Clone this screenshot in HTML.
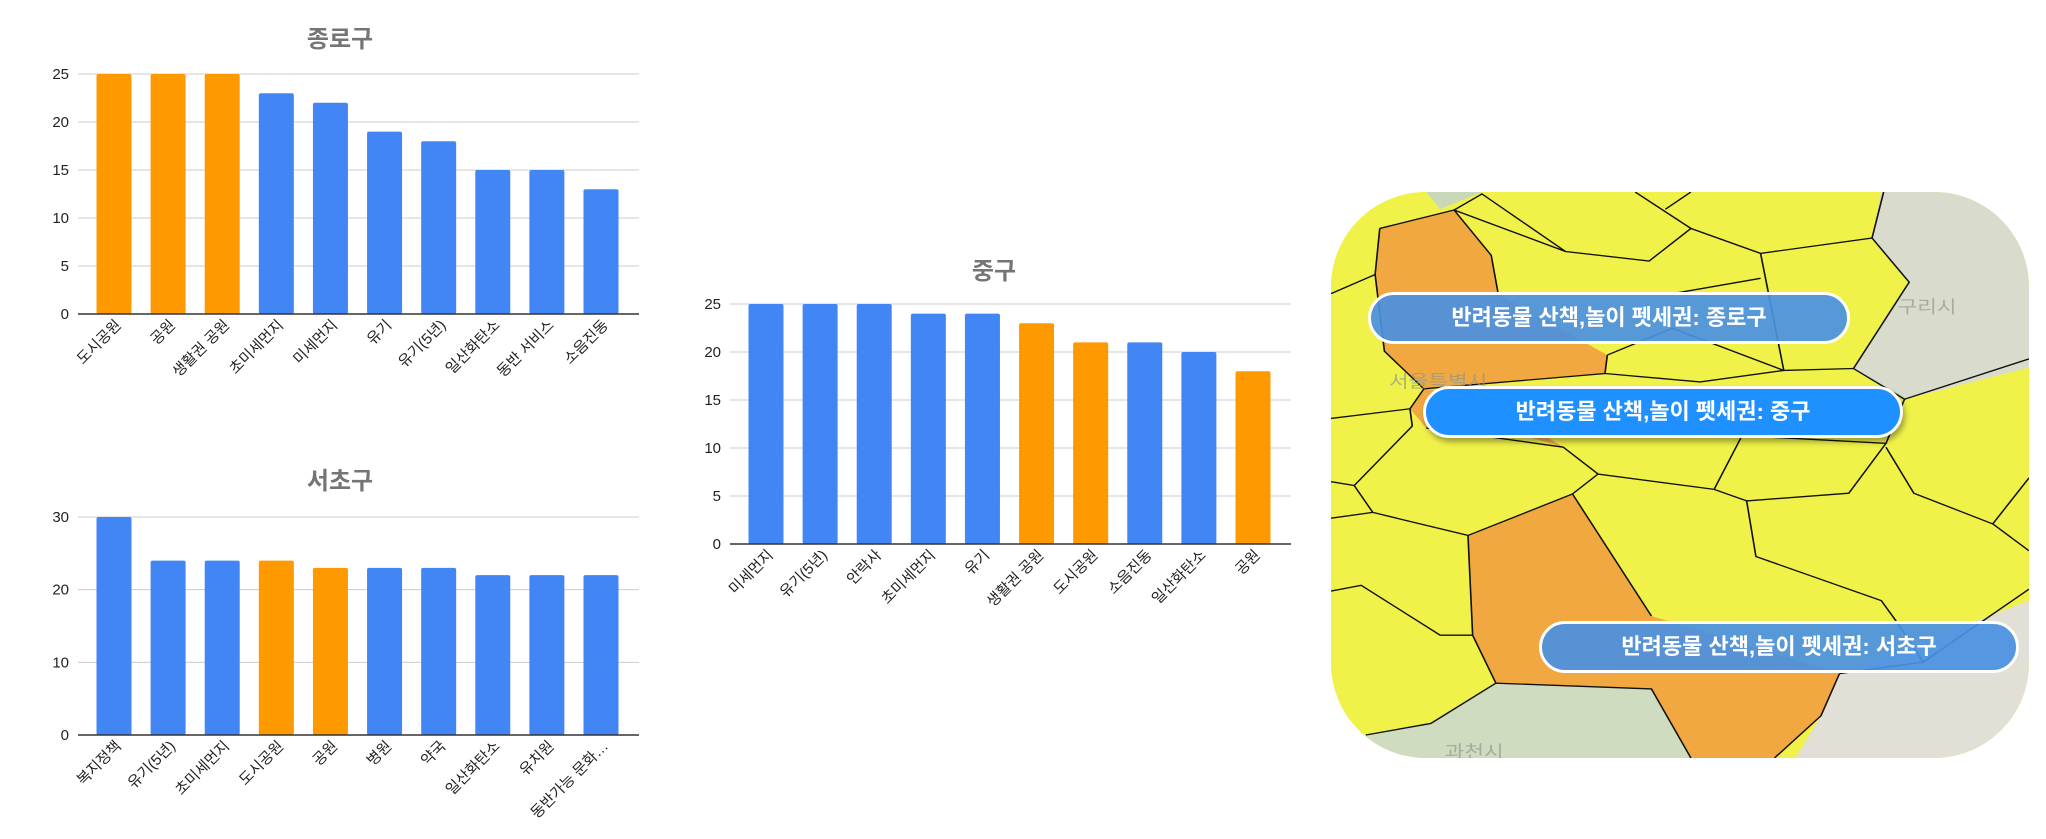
<!DOCTYPE html>
<html><head><meta charset="utf-8">
<style>
html,body{margin:0;padding:0;background:#fff;}
body{width:2046px;height:839px;position:relative;overflow:hidden;font-family:"Liberation Sans","Noto Sans CJK KR",sans-serif;}
#charts{position:absolute;left:0;top:0;}
#map{position:absolute;left:1331px;top:192px;width:698px;height:566px;border-radius:95px;overflow:hidden;background:#eef04a;}
.pill{position:absolute;height:46px;border:3px solid #fff;border-radius:26px;color:#fff;font-weight:bold;font-size:22px;line-height:46px;text-align:center;box-sizing:content-box;font-family:"Liberation Sans","Noto Sans CJK KR",sans-serif;}
</style></head><body>
<svg id="charts" width="2046" height="839" xmlns="http://www.w3.org/2000/svg"></svg>

<div id="map">
<svg width="698" height="566" viewBox="25 35 1503 1475" preserveAspectRatio="none" xmlns="http://www.w3.org/2000/svg">
<rect x="0" y="0" width="1600" height="1600" fill="#f0f24a"/>
<polygon points="1215,0 1600,0 1600,470 1260,575 1150,495 1270,270 1190,155" fill="#d9dccd"/>
<polygon points="0,1470 100,1450 240,1420 380,1315 715,1330 800,1510 0,1600" fill="#cfdcc0"/>
<polygon points="1120,1290 1528,1100 1600,1100 1600,1600 980,1600 1080,1400" fill="#e2e0d6"/>
<polygon points="230,35 350,35 260,80" fill="#c9d8b8"/>
<polygon points="130,130 290,82 370,200 385,300 620,460 615,508 225,548 140,450 120,250" fill="#f2a040" opacity="0.9"/>
<polygon points="195,600 225,548 340,560 525,700 440,670 230,650" fill="#f2a040" opacity="0.9"/>
<polygon points="320,930 545,822 715,1140 1120,1290 1080,1400 980,1510 800,1510 715,1330 380,1315 330,1190" fill="#f2a040" opacity="0.9"/>
<g fill="none" stroke="#111" stroke-width="3.5">
<polyline points="130,130 290,82 370,200 385,300"/>
<polyline points="120,250 130,130"/>
<polyline points="25,300 120,250 140,450 225,548 195,600 25,625"/>
<polyline points="195,600 200,645 75,800 25,790"/>
<polyline points="75,800 115,870 25,885"/>
<polyline points="115,870 320,930 545,822 600,770 850,810 920,840"/>
<polyline points="230,650 525,700 600,770"/>
<polyline points="620,460 615,508 225,548"/>
<polyline points="620,460 760,390 1000,500 1150,495 1260,575 1528,470"/>
<polyline points="615,508 820,530 1000,500"/>
<polyline points="290,82 350,40 530,190 710,215 800,130 950,195 1190,155 1215,35"/>
<polyline points="530,190 290,82"/>
<polyline points="800,130 680,35"/>
<polyline points="745,80 800,35"/>
<polyline points="950,195 1000,500"/>
<polyline points="950,260 760,300"/>
<polyline points="1190,155 1270,270 1150,495"/>
<polyline points="850,810 910,670 1220,690 1140,820 920,840"/>
<polyline points="1220,690 1260,575"/>
<polyline points="1220,700 1280,820 1450,900 1528,780"/>
<polyline points="1450,900 1528,970"/>
<polyline points="920,840 940,985 1210,1100 1240,1150 1300,1260 1120,1290"/>
<polyline points="1300,1260 1528,1070"/>
<polyline points="320,930 330,1190 260,1190 90,1060 25,1075"/>
<polyline points="330,1190 380,1315 240,1420 100,1450"/>
<polyline points="545,822 715,1140"/>
<polyline points="380,1315 715,1330 800,1510"/>
<polyline points="1120,1290 1080,1400 980,1510"/>
</g>
<g fill="#8e9a8e" font-family="Liberation Sans, Noto Sans CJK KR, sans-serif" font-size="46" opacity="0.7">
<text x="1245" y="350">구리시</text>
<text x="150" y="545">서울특별시</text>
<text x="270" y="1510">과천시</text>
</g>
</svg>
<div class="pill" style="left:37px;top:100px;width:476px;background:rgba(74,144,226,0.92);">반려동물 산책,놀이 펫세권: 종로구</div>
<div class="pill" style="left:92px;top:194px;width:474px;background:#1e90ff;box-shadow:2px 4px 6px rgba(0,0,0,0.35);">반려동물 산책,놀이 펫세권: 중구</div>
<div class="pill" style="left:208px;top:429px;width:474px;background:rgba(74,144,226,0.92);">반려동물 산책,놀이 펫세권: 서초구</div>
</div>

<script>
const jongnoCats = ["도시공원","공원","생활권 공원","초미세먼지","미세먼지","유기","유기(5년)","일산화탄소","동반 서비스","소음진동"];
const jongnoVals = [25,25,25,23,22,19,18,15,15,13];
const jongnoHi = [1,1,1,0,0,0,0,0,0,0];
const jongnoTicks = [0,5,10,15,20,25];

const seochoCats = ["복지정책","유기(5년)","초미세먼지","도시공원","공원","병원","약국","일산화탄소","유치원","동반가능 문화…"];
const seochoVals = [30,24,24,24,23,23,23,22,22,22];
const seochoHi = [0,0,0,1,1,0,0,0,0,0];
const seochoTicks = [0,10,20,30];

const jungCats = ["미세먼지","유기(5년)","안락사","초미세먼지","유기","생활권 공원","도시공원","소음진동","일산화탄소","공원"];
const jungVals = [25,25,25,24,24,23,21,21,20,18];
const jungHi = [0,0,0,0,0,1,1,0,0,1];
const jungTicks = [0,5,10,15,20,25];

const NS = "http://www.w3.org/2000/svg";
const root = document.getElementById('charts');
function mk(tag, attrs, parent){
  const e = document.createElementNS(NS, tag);
  for (const k in attrs) e.setAttribute(k, attrs[k]);
  parent.appendChild(e);
  return e;
}
function drawChart(key, title, cats, vals, hi, ticks, box){
  const g = mk('g', {}, root);
  
  
  const maxV = ticks[ticks.length-1];
  const y = v => box.y0 - (v / maxV) * (box.y0 - box.yTop);
  const pitch = (box.xLast - box.xFirst) / (cats.length - 1);
  const x = i => box.xFirst + i * pitch;
  const t = mk('text', {x: box.titleX, y: box.titleY, 'text-anchor':'middle', 'font-size':24, 'font-weight':'bold', fill:'#757575'}, g);
  t.textContent = title;
  
  
  ticks.forEach(tv => {
    const yy = y(tv);
    if (tv !== 0) {
      const gl = mk('line', {x1: box.gx0, x2: box.gx1, y1: yy, y2: yy, stroke:'#cccccc', 'stroke-width':1}, g);
      
      
    }
    const tl = mk('text', {x: box.gx0 - 9, y: yy + 5, 'text-anchor':'end', 'font-size':15, fill:'#222'}, g);
    tl.textContent = tv;
    
    
  });
  vals.forEach((v, i) => {
    const cx = x(i);
    const r = mk('rect', {x: cx - 17.5, y: y(v), width: 35, height: box.y0 - y(v), fill: hi[i] ? '#ff9900' : '#4285f4', rx: 2}, g);
    
    
    const lab = mk('text', {x: cx + 8, y: box.y0 + 12, 'text-anchor':'end', 'font-size':15, fill:'#222', transform:'rotate(-45 ' + (cx + 8) + ' ' + (box.y0 + 12) + ')'}, g);
    lab.textContent = cats[i];
    
    
  });
  const ax = mk('line', {x1: box.gx0, x2: box.gx1, y1: box.y0, y2: box.y0, stroke:'#333', 'stroke-width':1.6}, g);
  
  
}
drawChart('jongno', '종로구', jongnoCats, jongnoVals, jongnoHi, jongnoTicks,
  {y0:314, yTop:74, xFirst:114, xLast:601, gx0:78, gx1:639, titleX:340, titleY:47});
drawChart('seocho', '서초구', seochoCats, seochoVals, seochoHi, seochoTicks,
  {y0:735, yTop:517, xFirst:114, xLast:601, gx0:78, gx1:639, titleX:340, titleY:489});
drawChart('jung', '중구', jungCats, jungVals, jungHi, jungTicks,
  {y0:544, yTop:304, xFirst:766, xLast:1253, gx0:730, gx1:1291, titleX:994, titleY:279});
</script>
</body></html>
